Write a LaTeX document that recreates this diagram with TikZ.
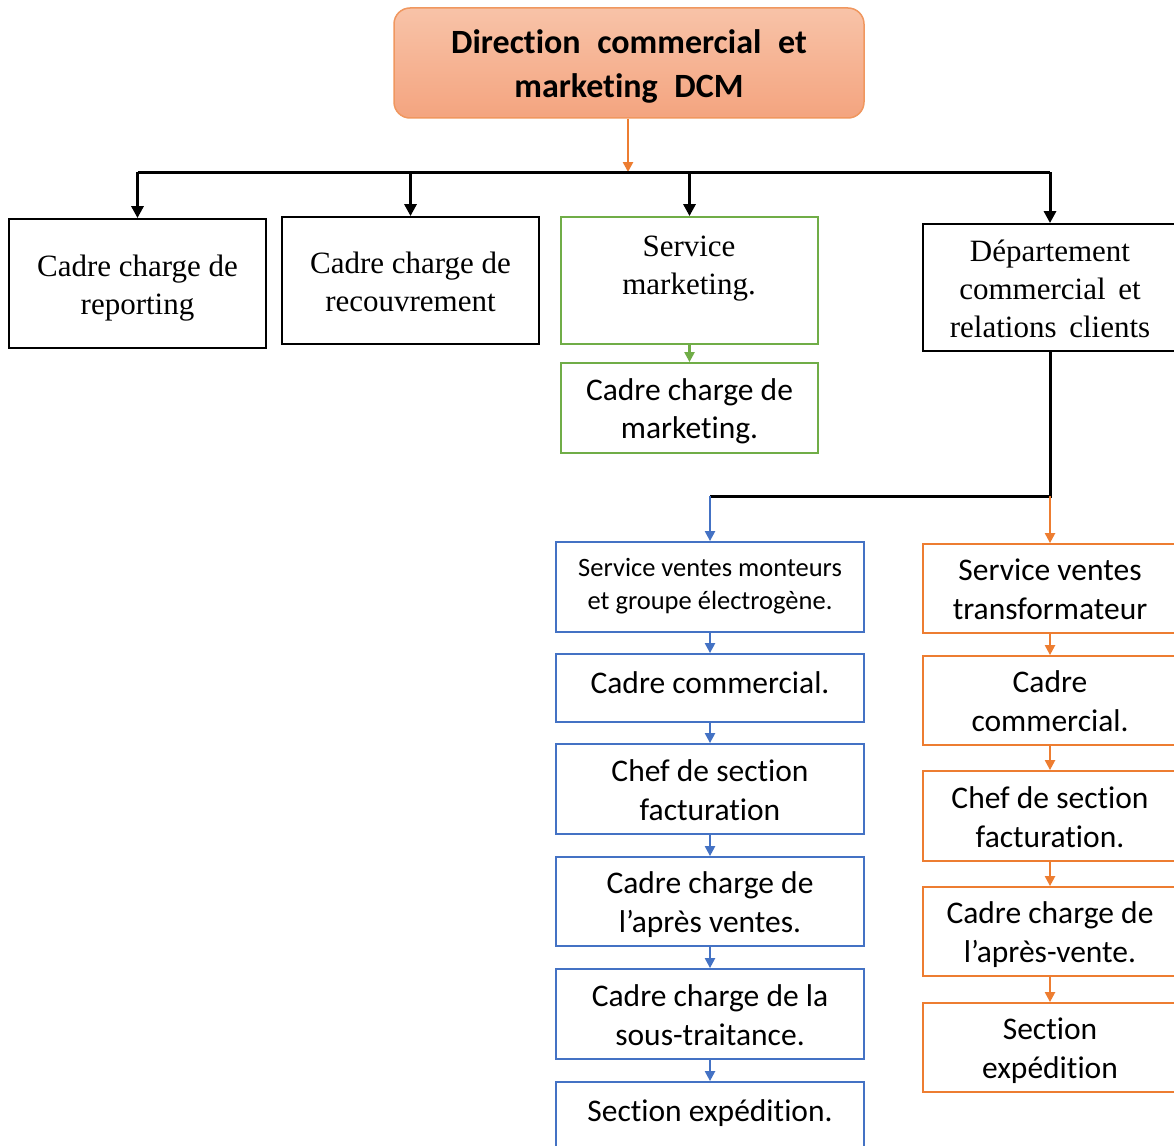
\documentclass[tikz,border=0pt]{standalone}
\usepackage{fontspec}
\setmainfont{Liberation Serif}
\newfontfamily\calib[Ligatures=NoCommon]{Carlito}
\usetikzlibrary{arrows.meta}
\definecolor{accblue}{HTML}{4472C4}
\definecolor{accorange}{HTML}{ED7D31}
\definecolor{accgreen}{HTML}{70AD47}
\definecolor{headtop}{HTML}{F8C3A8}
\definecolor{headbot}{HTML}{F4A47F}
\definecolor{headedge}{HTML}{F0975F}
% invisible rule giving every first line the same height
\newcommand{\firstlinerule}[1][30pt]{\rule{0pt}{#1}}
\begin{document}
\begin{tikzpicture}[x=1pt,y=-1pt,
  % every last line gets the same depth
  lined/.style={execute at end node={\rule[-6.8pt]{0pt}{0pt}}},
  unlined/.style={execute at end node={}},
  % single-line boxes keep their text near the top edge
  topline/.style={execute at end node={\rule[-19pt]{0pt}{0pt}}},
  box/.style={rectangle, inner sep=0pt, align=center, line width=1.8pt, lined},
  serifbox/.style={box, draw=black, font=\fontsize{31}{38}\selectfont},
  greenbox/.style={box, draw=accgreen, font=\calib\fontsize{31.5}{38.5}\selectfont},
  bluebox/.style={box, draw=accblue, font=\calib\fontsize{31.5}{39}\selectfont},
  orangebox/.style={box, draw=accorange, font=\calib\fontsize{31.5}{39}\selectfont},
  headbox/.style={rectangle, rounded corners=16pt, draw=headedge, line width=1.5pt,
    top color=headtop, bottom color=headbot, align=center, inner sep=0pt, lined,
    font=\calib\bfseries\fontsize{34}{44}\selectfont},
  blkline/.style={line width=3pt, black},
  blkarr/.style={blkline, -{Triangle[length=12pt,width=12pt]}},
  colarr/.style={line width=2.2pt, -{Triangle[length=10pt,width=10pt]}},
]
% canvas
\fill[white] (0,0) rectangle (1174,1145);
\useasboundingbox (0,0) rectangle (1174,1145);

% head of the department
\node[headbox, minimum width=470, minimum height=110] (dcm) at (629,63)
  {\firstlinerule[32pt]Direction\hspace{9pt} commercial\hspace{9pt} et\\marketing\hspace{9pt} DCM};

% first level
\node[serifbox, minimum width=257, minimum height=129] (rep) at (137.5,283.5)
  {\firstlinerule Cadre charge de\\reporting};
\node[serifbox, minimum width=257, minimum height=127] (rec) at (410.5,280.5)
  {\firstlinerule Cadre charge de\\recouvrement};
\node[greenbox, minimum width=257, minimum height=127] (mkt) at (689.5,280.5) {};
\node[lined, font=\fontsize{31}{38}\selectfont, align=center, inner sep=0pt] (mkttxt) at (689,264)
  {\firstlinerule Service\\marketing.};
\node[greenbox, minimum width=257, minimum height=90] (mktc) at (689.5,408)
  {\firstlinerule Cadre charge de\\marketing.};
\node[serifbox, minimum width=254, minimum height=127] (dept) at (1050,287.5)
  {\firstlinerule Département\\commercial\hspace{5pt} et\\relations\hspace{5pt} clients};

% blue column
\node[bluebox, unlined, minimum width=308, minimum height=90, font=\calib\fontsize{26.5}{33}\selectfont] (b1) at (710,587)
  {Service ventes monteurs\\et groupe électrogène.};
\node[bluebox, topline, minimum width=308, minimum height=68] (b2) at (710,688) {\firstlinerule Cadre commercial.};
\node[bluebox, minimum width=308, minimum height=90] (b3) at (710,789) {\firstlinerule Chef de section\\facturation};
\node[bluebox, minimum width=308, minimum height=89] (b4) at (710,901.5) {\firstlinerule Cadre charge de\\l’après ventes.};
\node[bluebox, minimum width=308, minimum height=90] (b5) at (710,1014) {\firstlinerule Cadre charge de la\\sous-traitance.};
\node[bluebox, topline, minimum width=308, minimum height=68] (b6) at (710,1116) {\firstlinerule Section expédition.};

% orange column
\node[orangebox, minimum width=254, minimum height=89] (o1) at (1050,588.5) {\firstlinerule Service ventes\\transformateur};
\node[orangebox, minimum width=254, minimum height=89] (o2) at (1050,700.5) {\firstlinerule Cadre\\commercial.};
\node[orangebox, minimum width=254, minimum height=90] (o3) at (1050,816) {\firstlinerule Chef de section\\facturation.};
\node[orangebox, minimum width=254, minimum height=89] (o4) at (1050,931.5) {\firstlinerule Cadre charge de\\l’après-vente.};
\node[orangebox, minimum width=254, minimum height=89] (o5) at (1050,1047.5) {\firstlinerule Section\\expédition};

% bus under the head
\coordinate (bus) at (628,172);
\draw[colarr, accorange, line width=2.8pt] (dcm.south -| bus) -- (bus);
\draw[blkline] (rep.north |- bus) -- (dept.north |- bus);
\draw[blkarr] (rep.north |- bus) -- (rep.north);
\draw[blkarr] (rec.north |- bus) -- (rec.north);
\draw[blkarr] (mkt.north |- bus) -- (mkt.north);
\draw[blkarr] (dept.north |- bus) -- (dept.north);
\draw[colarr, accgreen] (mkt.south) -- (mktc.north);

% split under the commercial department
\coordinate (split) at (1050,496);
\draw[blkline] (dept.south) -- (split) -- (b1.north |- split);
\draw[colarr, accblue] (b1.north |- split) -- (b1.north);
\draw[colarr, accorange] (split) -- (o1.north);

% chains
\foreach \a/\b in {b1/b2, b2/b3, b3/b4, b4/b5, b5/b6}
  \draw[colarr, accblue] (\a.south) -- (\b.north);
\foreach \a/\b in {o1/o2, o2/o3, o3/o4, o4/o5}
  \draw[colarr, accorange] (\a.south) -- (\b.north);
\end{tikzpicture}
\end{document}
